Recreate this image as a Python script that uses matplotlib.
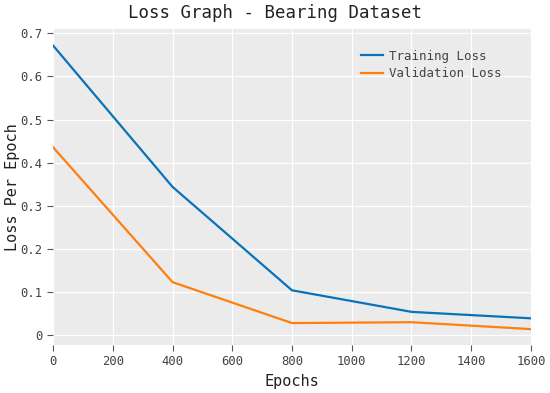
import matplotlib.pyplot as plt

epochs = [0, 400, 800, 1200, 1600]
train_loss = [0.672, 0.344, 0.104, 0.054, 0.039]
val_loss = [0.436, 0.123, 0.028, 0.030, 0.014]

x_ticks = [0, 200, 400, 600, 800, 1000, 1200, 1400, 1600]
y_ticks = [0, 0.1, 0.2, 0.3, 0.4, 0.5, 0.6, 0.7]
y_labels = ["0", "0.1", "0.2", "0.3", "0.4", "0.5", "0.6", "0.7"]

plt.rcParams['font.family'] = ['DejaVu Sans Mono']

fig = plt.figure(figsize=(5.5, 3.93), dpi=100)
ax = fig.add_axes([0.0964, 0.122, 0.869, 0.804])
ax.set_facecolor('#ebebeb')
for s in ax.spines.values():
    s.set_visible(False)

ax.plot(epochs, train_loss, color='#0a72b8', lw=1.6, label='Training Loss')
ax.plot(epochs, val_loss, color='#ff7f0e', lw=1.6, label='Validation Loss')

ax.set_xlim(0, 1600)
ax.set_ylim(-0.023, 0.71)
ax.set_xticks(x_ticks)
ax.set_yticks(y_ticks)
ax.set_yticklabels(y_labels)
ax.grid(True, color='white', lw=0.9)
ax.set_axisbelow(True)
ax.tick_params(colors='#555555', labelsize=8.8, length=4, width=0.8, labelcolor='#444444')

ax.set_title("Loss Graph - Bearing Dataset", fontsize=12.5, color='#222222', pad=8, x=0.464)
ax.set_xlabel("Epochs", fontsize=11, color='#222222')
ax.set_ylabel("Loss Per Epoch", fontsize=11, color='#222222')
ax.yaxis.set_label_coords(-0.07, 0.5)

ax.legend(loc='upper left', bbox_to_anchor=(0.644, 0.935), frameon=False,
          fontsize=9, borderaxespad=0, borderpad=0, handlelength=1.8,
          handletextpad=0.45, labelspacing=0.35, labelcolor='#444444')

fig.savefig("out.png", dpi=100)
